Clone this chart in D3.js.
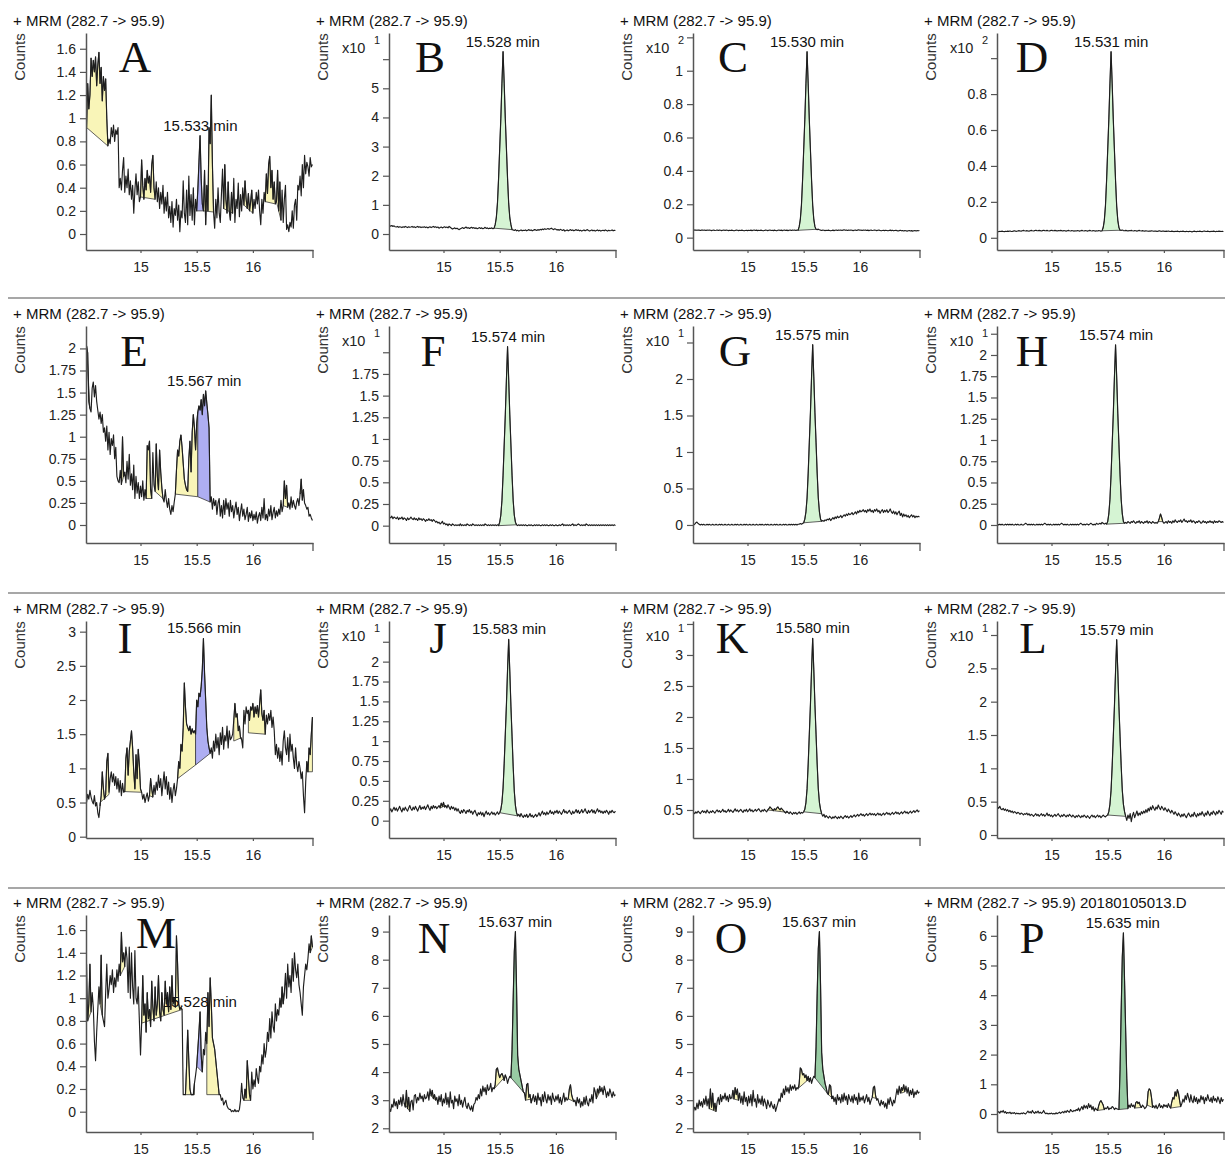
<!DOCTYPE html>
<html><head><meta charset="utf-8">
<script src="https://cdn.jsdelivr.net/npm/d3@7/dist/d3.min.js"></script>
<style>
body{margin:0;background:#fff;}
svg text{font-family:"Liberation Sans",Arial,sans-serif;}
</style></head><body>
<svg id="chart" width="1225" height="1162"></svg>
<script>
// ---------- DATA ----------
const T0 = 14.52, DT = 0.01; // retention-time sampling of every trace (min)
const letters = ["A","B","C","D","E","F","G","H","I","J","K","L","M","N","O","P"];
const titles = ["+ MRM (282.7 -> 95.9)","+ MRM (282.7 -> 95.9)","+ MRM (282.7 -> 95.9)","+ MRM (282.7 -> 95.9)",
  "+ MRM (282.7 -> 95.9)","+ MRM (282.7 -> 95.9)","+ MRM (282.7 -> 95.9)","+ MRM (282.7 -> 95.9)",
  "+ MRM (282.7 -> 95.9)","+ MRM (282.7 -> 95.9)","+ MRM (282.7 -> 95.9)","+ MRM (282.7 -> 95.9)",
  "+ MRM (282.7 -> 95.9)","+ MRM (282.7 -> 95.9)","+ MRM (282.7 -> 95.9)","+ MRM (282.7 -> 95.9) 20180105013.D"];
const retentionTimes = ["15.533","15.528","15.530","15.531","15.567","15.574","15.575","15.574",
  "15.566","15.583","15.580","15.579","15.528","15.637","15.637","15.635"];
const multipliers = [null,"1","2","2",null,"1","1","1",null,"1","1","1",null,null,null,null];
const xTickValues = [15, 15.5, 16];
const yTicksA = [0,0.2,0.4,0.6,0.8,1,1.2,1.4,1.6];
const yTicksB = [0,1,2,3,4,5];
const yTicksC = [0,0.2,0.4,0.6,0.8,1];
const yTicksD = [0,0.2,0.4,0.6,0.8];
const yTicksE = [0,0.25,0.5,0.75,1,1.25,1.5,1.75,2];
const yTicksF = [0,0.25,0.5,0.75,1,1.25,1.5,1.75];
const yTicksG = [0,0.5,1,1.5,2];
const yTicksH = [0,0.25,0.5,0.75,1,1.25,1.5,1.75,2];
const yTicksI = [0,0.5,1,1.5,2,2.5,3];
const yTicksJ = [0,0.25,0.5,0.75,1,1.25,1.5,1.75,2];
const yTicksK = [0.5,1,1.5,2,2.5,3];
const yTicksL = [0,0.5,1,1.5,2,2.5];
const yTicksM = [0,0.2,0.4,0.6,0.8,1,1.2,1.4,1.6];
const yTicksN = [2,3,4,5,6,7,8,9];
const yTicksO = [2,3,4,5,6,7,8,9];
const yTicksP = [0,1,2,3,4,5,6];
const yTopTicks = [null,6,1.2,1,null,2,2.5,2.25,null,2.25,3.5,3,null,null,null,null];
const yDomains = [[-0.138,1.736],[-0.549,6.898],[-0.074,1.226],[-0.068,1.14],
  [-0.204,2.254],[-0.2,2.303],[-0.247,2.726],[-0.212,2.341],
  [-0.019,3.156],[-0.218,2.511],[0.048,3.548],[-0.045,3.21],
  [-0.179,1.733],[1.868,9.59],[1.868,9.59],[-0.606,6.70]];

const traceA = [0.92,1.30,1.08,1.20,1.52,1.36,1.50,1.40,1.53,1.28,
1.46,1.57,1.30,1.44,1.15,1.36,1.24,1.34,1.00,0.76,
0.82,0.78,0.92,0.84,0.94,0.80,0.90,0.86,0.92,0.40,
0.48,0.38,0.55,0.66,0.36,0.50,0.40,0.56,0.34,0.46,
0.30,0.42,0.18,0.38,0.52,0.34,0.45,0.28,0.32,0.64,
0.42,0.30,0.48,0.38,0.55,0.44,0.50,0.36,0.60,0.68,
0.40,0.30,0.45,0.28,0.40,0.22,0.36,0.26,0.42,0.18,
0.32,0.20,0.36,0.14,0.24,0.10,0.28,0.06,0.22,0.16,
0.30,0.12,0.25,0.02,0.20,0.14,0.46,0.18,0.10,0.38,
0.08,0.50,0.16,0.34,0.12,0.40,0.08,0.30,0.20,0.38,
0.62,0.85,0.48,0.26,0.20,0.55,0.08,0.42,0.20,0.92,
0.78,1.20,0.60,0.19,0.05,0.30,0.14,0.40,0.18,0.10,
0.34,0.56,0.22,0.60,0.30,0.18,0.45,0.20,0.12,0.36,
0.18,0.48,0.10,0.30,0.22,0.44,0.15,0.34,0.20,0.40,
0.25,0.46,0.30,0.22,0.35,0.20,0.28,0.38,0.18,0.30,
0.22,0.36,0.26,0.38,0.20,0.08,0.30,0.18,0.36,0.28,
0.52,0.35,0.60,0.67,0.40,0.55,0.30,0.45,0.26,0.28,
0.55,0.20,0.45,0.12,0.38,0.10,0.30,0.42,0.04,0.08,
0.02,0.10,0.06,0.20,0.05,0.25,0.30,0.12,0.42,0.38,
0.50,0.33,0.60,0.40,0.68,0.52,0.62,0.58,0.50,0.66,
0.58,0.60];
const traceB = [0.28,0.27,0.29,0.26,0.28,0.25,0.24,0.26,0.23,0.25,
0.24,0.22,0.25,0.23,0.26,0.24,0.22,0.25,0.23,0.24,
0.26,0.23,0.25,0.22,0.24,0.26,0.23,0.25,0.22,0.24,
0.23,0.25,0.22,0.24,0.21,0.23,0.25,0.22,0.24,0.26,
0.23,0.25,0.22,0.24,0.20,0.22,0.24,0.21,0.23,0.25,
0.22,0.24,0.21,0.26,0.23,0.20,0.17,0.19,0.21,0.18,
0.20,0.17,0.15,0.18,0.20,0.22,0.19,0.21,0.24,0.20,
0.22,0.19,0.21,0.23,0.20,0.22,0.19,0.21,0.18,0.20,
0.22,0.19,0.21,0.18,0.20,0.23,0.19,0.21,0.18,0.20,
0.19,0.21,0.18,0.20,0.32,0.56,1.05,1.90,2.93,3.96,
5.17,6.26,5.17,3.96,2.93,1.90,1.05,0.56,0.32,0.15,
0.14,0.12,0.15,0.11,0.13,0.10,0.12,0.14,0.11,0.13,
0.12,0.14,0.11,0.13,0.15,0.12,0.14,0.11,0.13,0.15,
0.14,0.12,0.15,0.13,0.16,0.14,0.17,0.15,0.18,0.16,
0.17,0.19,0.16,0.18,0.20,0.17,0.15,0.18,0.16,0.14,
0.15,0.13,0.16,0.14,0.12,0.15,0.10,0.12,0.14,0.11,
0.13,0.15,0.12,0.14,0.11,0.13,0.15,0.12,0.14,0.11,
0.13,0.10,0.12,0.14,0.11,0.13,0.15,0.12,0.10,0.12,
0.14,0.11,0.13,0.10,0.12,0.14,0.11,0.13,0.10,0.12,
0.13,0.11,0.14,0.12,0.10,0.13,0.11,0.12,0.14,0.11,
0.13,0.12];
const traceC = [0.047,0.045,0.046,0.044,0.046,0.045,0.043,0.045,0.046,0.044,
0.045,0.043,0.045,0.044,0.046,0.044,0.042,0.044,0.045,0.043,
0.044,0.046,0.043,0.045,0.044,0.042,0.044,0.046,0.043,0.045,
0.044,0.042,0.044,0.043,0.045,0.043,0.041,0.043,0.045,0.044,
0.042,0.044,0.043,0.045,0.043,0.041,0.043,0.044,0.042,0.044,
0.043,0.045,0.042,0.044,0.046,0.043,0.045,0.042,0.044,0.043,
0.045,0.043,0.041,0.043,0.045,0.044,0.042,0.044,0.046,0.043,
0.044,0.042,0.045,0.043,0.041,0.044,0.046,0.043,0.045,0.042,
0.044,0.046,0.043,0.045,0.042,0.044,0.046,0.043,0.045,0.044,
0.046,0.043,0.045,0.044,0.066,0.109,0.195,0.345,0.527,0.708,
0.922,1.114,0.922,0.708,0.527,0.345,0.195,0.109,0.066,0.050,
0.048,0.051,0.047,0.045,0.043,0.045,0.044,0.042,0.044,0.043,
0.045,0.043,0.041,0.043,0.045,0.042,0.044,0.046,0.043,0.045,
0.044,0.046,0.043,0.045,0.047,0.044,0.046,0.043,0.045,0.044,
0.046,0.044,0.042,0.044,0.046,0.043,0.045,0.047,0.044,0.045,
0.043,0.045,0.044,0.046,0.043,0.045,0.042,0.044,0.045,0.043,
0.044,0.046,0.044,0.042,0.044,0.045,0.043,0.041,0.043,0.044,
0.042,0.044,0.043,0.041,0.043,0.045,0.042,0.044,0.041,0.043,
0.044,0.042,0.040,0.042,0.044,0.041,0.043,0.040,0.042,0.041,
0.039,0.041,0.043,0.040,0.042,0.039,0.041,0.043,0.040,0.042,
0.041,0.043];
const traceD = [0.036,0.034,0.036,0.035,0.037,0.035,0.034,0.036,0.035,0.037,
0.036,0.038,0.036,0.035,0.037,0.039,0.037,0.036,0.038,0.040,
0.038,0.037,0.039,0.041,0.039,0.038,0.040,0.038,0.037,0.039,
0.041,0.039,0.038,0.040,0.042,0.040,0.039,0.041,0.040,0.038,
0.040,0.042,0.040,0.039,0.041,0.039,0.038,0.040,0.042,0.040,
0.039,0.041,0.040,0.038,0.040,0.039,0.041,0.040,0.038,0.040,
0.039,0.037,0.039,0.041,0.039,0.038,0.040,0.039,0.037,0.039,
0.038,0.040,0.039,0.037,0.039,0.041,0.039,0.038,0.040,0.039,
0.037,0.039,0.041,0.039,0.038,0.040,0.039,0.037,0.039,0.038,
0.040,0.039,0.037,0.039,0.057,0.097,0.177,0.317,0.487,0.657,
0.857,1.036,0.857,0.657,0.487,0.317,0.177,0.097,0.057,0.042,
0.041,0.043,0.040,0.039,0.041,0.040,0.038,0.040,0.039,0.041,
0.039,0.038,0.040,0.039,0.037,0.039,0.041,0.039,0.038,0.040,
0.038,0.037,0.039,0.038,0.036,0.038,0.037,0.039,0.038,0.036,
0.038,0.037,0.035,0.037,0.039,0.037,0.036,0.038,0.037,0.035,
0.037,0.036,0.038,0.036,0.035,0.037,0.036,0.034,0.036,0.035,
0.037,0.035,0.034,0.036,0.035,0.037,0.035,0.034,0.036,0.035,
0.034,0.036,0.035,0.033,0.035,0.037,0.035,0.034,0.036,0.035,
0.037,0.035,0.034,0.036,0.038,0.036,0.035,0.037,0.035,0.034,
0.036,0.035,0.037,0.036,0.034,0.036,0.035,0.037,0.036,0.035,
0.036,0.035];
const traceE = [2.03,1.95,1.40,1.32,1.28,1.55,1.62,1.45,1.58,1.40,
1.30,1.20,1.28,1.15,1.25,1.05,1.10,0.95,1.12,0.85,
1.05,0.80,0.98,0.90,1.02,0.75,0.88,0.55,0.50,0.48,
0.62,0.46,1.00,0.55,0.60,0.48,0.72,0.52,0.80,0.45,
0.58,0.40,0.68,0.30,0.55,0.36,0.48,0.30,0.44,0.32,
0.50,0.28,0.40,0.30,0.90,0.85,0.95,0.40,0.30,0.82,
0.45,0.38,0.92,0.55,0.40,0.85,0.60,0.42,0.30,0.26,
0.40,0.28,0.20,0.30,0.18,0.12,0.22,0.15,0.26,0.35,
0.62,0.85,0.78,0.95,1.02,0.88,0.70,0.52,0.45,0.40,
0.38,0.75,0.95,0.60,1.05,1.25,1.10,0.85,1.15,1.28,
1.35,1.30,1.42,1.25,1.48,1.35,1.52,1.38,1.25,1.10,
0.26,0.32,0.18,0.30,0.22,0.28,0.12,0.25,0.30,0.10,
0.22,0.08,0.28,0.12,0.30,0.18,0.25,0.10,0.28,0.15,
0.22,0.08,0.18,0.26,0.12,0.20,0.05,0.15,0.24,0.10,
0.18,0.06,0.12,0.20,0.04,0.14,0.08,0.16,0.05,0.12,
0.06,0.15,0.02,0.10,0.14,0.05,0.20,0.08,0.30,0.06,
0.12,0.05,0.18,0.10,0.22,0.06,0.14,0.20,0.08,0.16,
0.10,0.18,0.12,0.28,0.15,0.22,0.50,0.30,0.45,0.20,
0.25,0.18,0.32,0.20,0.28,0.22,0.18,0.26,0.30,0.22,
0.35,0.52,0.28,0.40,0.25,0.22,0.18,0.20,0.10,0.12,
0.08,0.05];
const traceF = [0.10,0.09,0.11,0.08,0.10,0.09,0.08,0.10,0.07,0.09,
0.08,0.10,0.07,0.09,0.08,0.06,0.09,0.07,0.08,0.10,
0.08,0.07,0.09,0.07,0.08,0.06,0.09,0.07,0.08,0.06,
0.08,0.07,0.05,0.07,0.06,0.08,0.06,0.07,0.05,0.07,
0.06,0.04,0.05,0.03,0.04,0.02,0.03,0.05,0.02,0.03,
0.01,0.02,0.00,0.02,0.01,0.00,0.02,0.01,0.00,0.01,
0.00,0.01,0.00,0.02,0.00,0.01,0.00,0.01,0.00,0.02,
0.01,0.00,0.01,0.00,0.02,0.01,0.00,0.01,0.00,0.01,
0.00,0.01,0.00,0.01,0.00,0.02,0.01,0.00,0.01,0.00,
0.01,0.00,0.01,0.00,0.01,0.00,0.01,0.00,0.04,0.12,
0.29,0.58,0.93,1.28,1.69,2.065,1.69,1.28,0.93,0.58,
0.29,0.12,0.04,0.01,0.00,0.01,0.00,0.01,0.00,0.01,
0.00,0.01,0.00,0.00,0.01,0.00,0.01,0.00,0.00,0.01,
0.00,0.01,0.00,0.01,0.00,0.00,0.01,0.00,0.01,0.00,
0.01,0.00,0.00,0.01,0.00,0.01,0.00,0.00,0.01,0.00,
0.00,0.01,0.00,0.01,0.02,0.00,0.01,0.00,0.01,0.00,
0.01,0.00,0.01,0.02,0.00,0.01,0.00,0.01,0.02,0.01,
0.00,0.01,0.00,0.01,0.00,0.02,0.01,0.00,0.01,0.00,
0.01,0.00,0.01,0.00,0.01,0.00,0.01,0.00,0.01,0.00,
0.01,0.00,0.01,0.00,0.01,0.00,0.01,0.00,0.01,0.00,
0.01,0.00];
const traceG = [0.00,0.01,0.03,0.04,0.02,0.01,0.00,0.01,0.00,0.01,
0.00,0.00,0.01,0.00,0.01,0.00,0.00,0.01,0.00,0.00,
0.01,0.00,0.00,0.01,0.00,0.01,0.00,0.00,0.01,0.00,
0.00,0.01,0.00,0.00,0.01,0.00,0.00,0.01,0.00,0.01,
0.00,0.00,0.01,0.00,0.00,0.01,0.00,0.01,0.00,0.00,
0.01,0.00,0.00,0.01,0.00,0.00,0.01,0.00,0.00,0.01,
0.00,0.01,0.00,0.00,0.01,0.00,0.01,0.00,0.00,0.01,
0.00,0.00,0.01,0.00,0.01,0.00,0.00,0.01,0.00,0.00,
0.01,0.00,0.01,0.00,0.00,0.01,0.00,0.01,0.00,0.01,
0.00,0.01,0.00,0.01,0.01,0.02,0.01,0.02,0.03,0.08,
0.18,0.37,0.71,1.13,1.54,2.03,2.47,2.03,1.54,1.13,
0.71,0.37,0.18,0.08,0.05,0.06,0.05,0.07,0.06,0.08,
0.07,0.09,0.06,0.08,0.10,0.08,0.11,0.09,0.12,0.10,
0.11,0.13,0.10,0.12,0.14,0.12,0.15,0.13,0.16,0.14,
0.15,0.17,0.14,0.16,0.18,0.15,0.19,0.17,0.20,0.18,
0.19,0.21,0.18,0.20,0.17,0.21,0.19,0.22,0.18,0.20,
0.17,0.21,0.19,0.22,0.18,0.20,0.16,0.19,0.21,0.17,
0.20,0.18,0.21,0.17,0.19,0.22,0.18,0.16,0.19,0.15,
0.18,0.14,0.17,0.19,0.13,0.16,0.11,0.15,0.12,0.14,
0.11,0.13,0.10,0.12,0.14,0.11,0.13,0.10,0.12,0.11,
0.12,0.11];
const traceH = [0.01,0.00,0.01,0.00,0.01,0.00,0.00,0.01,0.00,0.01,
0.00,0.01,0.00,0.01,0.00,0.00,0.01,0.00,0.01,0.00,
0.00,0.01,0.00,0.00,0.01,0.02,0.01,0.00,0.01,0.00,
0.01,0.00,0.01,0.00,0.00,0.01,0.00,0.01,0.00,0.01,
0.00,0.01,0.02,0.01,0.00,0.01,0.00,0.01,0.00,0.00,
0.01,0.00,0.01,0.00,0.01,0.00,0.01,0.02,0.01,0.00,
0.01,0.00,0.01,0.00,0.00,0.01,0.00,0.01,0.00,0.01,
0.00,0.01,0.00,0.01,0.02,0.01,0.00,0.01,0.00,0.01,
0.01,0.00,0.01,0.02,0.01,0.00,0.01,0.00,0.02,0.01,
0.01,0.02,0.01,0.03,0.02,0.01,0.02,0.01,0.04,0.13,
0.30,0.59,0.95,1.31,1.74,2.12,1.74,1.31,0.95,0.59,
0.30,0.13,0.04,0.02,0.03,0.02,0.04,0.03,0.02,0.04,
0.03,0.05,0.03,0.02,0.04,0.03,0.05,0.02,0.04,0.03,
0.02,0.04,0.03,0.05,0.02,0.04,0.03,0.02,0.04,0.03,
0.02,0.03,0.02,0.04,0.08,0.13,0.09,0.04,0.02,0.03,
0.04,0.02,0.05,0.03,0.04,0.02,0.05,0.03,0.06,0.04,
0.03,0.05,0.04,0.06,0.03,0.05,0.07,0.04,0.05,0.03,
0.05,0.04,0.06,0.03,0.05,0.04,0.02,0.04,0.03,0.05,
0.04,0.02,0.03,0.05,0.03,0.04,0.02,0.04,0.03,0.05,
0.03,0.04,0.02,0.05,0.03,0.04,0.03,0.05,0.04,0.03,
0.04,0.03];
const traceI = [0.50,0.62,0.55,0.68,0.58,0.52,0.48,0.60,0.45,0.50,
0.35,0.28,0.45,0.60,0.95,0.70,0.55,0.62,1.10,1.22,
0.65,0.85,0.95,0.80,0.92,0.75,0.88,0.70,0.85,0.65,
0.82,0.60,0.78,0.65,0.66,1.15,1.30,0.90,1.25,1.40,
1.55,1.30,0.95,0.70,1.20,0.85,1.28,1.05,0.70,0.65,
0.55,0.62,0.50,0.58,0.64,0.52,0.60,0.85,0.70,0.58,
0.75,0.62,0.80,0.68,0.90,0.72,0.85,0.60,0.78,0.95,
0.70,0.88,0.62,0.80,0.55,0.72,0.50,0.68,0.78,0.60,
0.70,0.85,1.10,1.00,1.35,1.25,1.60,2.25,1.90,1.65,
1.60,1.55,1.62,1.50,1.58,1.52,1.55,1.50,2.00,1.90,
2.10,2.05,2.20,2.45,2.90,2.40,2.00,1.60,1.40,1.30,
1.22,1.30,1.15,1.40,1.25,1.50,1.30,1.45,1.20,1.52,
1.35,1.60,1.28,1.48,1.40,1.62,1.30,1.55,1.42,1.45,
1.50,1.70,1.95,1.75,1.80,1.55,1.62,1.45,1.42,1.30,
1.85,1.65,1.90,1.80,1.85,1.70,1.90,1.85,1.95,1.75,
1.90,1.80,1.92,1.75,1.95,2.15,1.80,1.70,1.85,1.50,
1.78,1.65,1.80,1.70,1.85,1.60,1.75,1.55,1.20,1.35,
1.15,1.30,1.10,1.25,1.05,1.40,1.55,1.30,1.20,1.45,
1.10,1.50,1.25,1.35,1.15,1.00,1.30,1.05,0.95,1.10,
1.00,0.85,0.95,0.60,0.35,0.80,1.10,0.95,1.30,1.20,
1.50,1.75];
const traceJ = [0.12,0.15,0.11,0.14,0.17,0.13,0.16,0.12,0.15,0.18,
0.14,0.11,0.16,0.13,0.17,0.14,0.12,0.16,0.19,0.15,
0.13,0.17,0.14,0.18,0.15,0.12,0.16,0.19,0.14,0.17,
0.15,0.18,0.14,0.17,0.20,0.16,0.13,0.18,0.15,0.19,
0.16,0.18,0.15,0.17,0.19,0.16,0.22,0.18,0.23,0.17,
0.19,0.16,0.20,0.17,0.14,0.18,0.15,0.17,0.13,0.16,
0.12,0.15,0.11,0.09,0.13,0.10,0.14,0.12,0.09,0.13,
0.11,0.14,0.10,0.12,0.08,0.11,0.13,0.09,0.06,0.10,
0.08,0.11,0.07,0.10,0.05,0.09,0.12,0.08,0.10,0.07,
0.09,0.11,0.08,0.10,0.07,0.09,0.11,0.08,0.10,0.14,
0.23,0.41,0.72,1.09,1.46,1.90,2.28,1.88,1.44,1.06,
0.68,0.37,0.19,0.10,0.06,0.08,0.05,0.09,0.06,0.04,
0.07,0.05,0.08,0.04,0.06,0.09,0.05,0.07,0.04,0.06,
0.08,0.05,0.07,0.10,0.06,0.09,0.12,0.08,0.10,0.07,
0.11,0.08,0.10,0.13,0.09,0.11,0.08,0.12,0.10,0.13,
0.09,0.12,0.10,0.08,0.11,0.14,0.10,0.12,0.09,0.11,
0.13,0.10,0.08,0.12,0.09,0.11,0.14,0.10,0.13,0.09,
0.11,0.14,0.10,0.12,0.15,0.11,0.09,0.13,0.10,0.12,
0.14,0.10,0.13,0.09,0.12,0.15,0.11,0.13,0.10,0.12,
0.09,0.12,0.10,0.13,0.11,0.08,0.12,0.10,0.13,0.11,
0.10,0.12];
const traceK = [0.46,0.44,0.47,0.45,0.48,0.46,0.44,0.47,0.49,0.46,
0.48,0.45,0.50,0.47,0.45,0.48,0.46,0.49,0.47,0.45,
0.48,0.50,0.47,0.49,0.46,0.48,0.51,0.47,0.49,0.46,
0.48,0.51,0.47,0.50,0.48,0.46,0.49,0.52,0.48,0.50,
0.47,0.49,0.51,0.48,0.46,0.50,0.48,0.51,0.47,0.49,
0.52,0.48,0.50,0.47,0.49,0.51,0.48,0.50,0.52,0.49,
0.47,0.50,0.48,0.51,0.49,0.47,0.50,0.52,0.55,0.53,
0.51,0.49,0.52,0.50,0.53,0.55,0.52,0.50,0.53,0.51,
0.49,0.47,0.45,0.48,0.46,0.44,0.47,0.45,0.43,0.46,
0.44,0.46,0.43,0.45,0.47,0.44,0.46,0.45,0.47,0.51,
0.62,0.84,1.24,1.72,2.20,2.76,3.27,2.76,2.20,1.72,
1.24,0.84,0.62,0.51,0.44,0.40,0.43,0.38,0.41,0.39,
0.37,0.40,0.38,0.36,0.39,0.37,0.40,0.38,0.36,0.39,
0.37,0.40,0.38,0.36,0.39,0.41,0.38,0.40,0.37,0.39,
0.41,0.38,0.40,0.42,0.39,0.41,0.43,0.40,0.42,0.44,
0.41,0.43,0.40,0.42,0.44,0.41,0.43,0.45,0.42,0.44,
0.42,0.44,0.41,0.43,0.45,0.42,0.44,0.41,0.43,0.45,
0.42,0.44,0.46,0.43,0.45,0.42,0.44,0.46,0.43,0.45,
0.47,0.44,0.46,0.43,0.45,0.47,0.44,0.46,0.48,0.45,
0.47,0.44,0.46,0.48,0.45,0.47,0.49,0.46,0.48,0.50,
0.47,0.49];
const traceL = [0.42,0.40,0.43,0.39,0.38,0.40,0.37,0.39,0.36,0.38,
0.35,0.37,0.34,0.36,0.33,0.35,0.34,0.32,0.34,0.33,
0.31,0.33,0.32,0.30,0.32,0.31,0.33,0.30,0.32,0.29,
0.31,0.30,0.28,0.30,0.32,0.29,0.31,0.28,0.30,0.32,
0.29,0.31,0.28,0.30,0.33,0.29,0.31,0.28,0.30,0.27,
0.29,0.31,0.28,0.30,0.32,0.29,0.27,0.30,0.28,0.31,
0.29,0.27,0.30,0.28,0.31,0.29,0.27,0.30,0.28,0.26,
0.29,0.27,0.30,0.28,0.26,0.29,0.27,0.30,0.28,0.26,
0.29,0.27,0.25,0.28,0.30,0.27,0.29,0.26,0.28,0.30,
0.27,0.29,0.26,0.28,0.30,0.28,0.27,0.29,0.30,0.35,
0.46,0.67,1.04,1.48,1.93,2.46,2.93,2.46,1.93,1.48,
1.04,0.67,0.46,0.35,0.28,0.22,0.30,0.25,0.32,0.20,
0.29,0.34,0.26,0.31,0.36,0.29,0.33,0.30,0.35,0.32,
0.36,0.33,0.38,0.34,0.40,0.36,0.42,0.38,0.44,0.40,
0.37,0.42,0.39,0.45,0.41,0.38,0.43,0.40,0.37,0.41,
0.38,0.35,0.39,0.36,0.33,0.37,0.34,0.31,0.35,0.32,
0.29,0.33,0.30,0.27,0.31,0.28,0.32,0.29,0.26,0.30,
0.33,0.29,0.27,0.31,0.28,0.34,0.30,0.27,0.32,0.29,
0.33,0.30,0.35,0.31,0.28,0.33,0.30,0.36,0.32,0.29,
0.34,0.31,0.36,0.33,0.30,0.35,0.32,0.37,0.34,0.31,
0.36,0.34];
const traceM = [1.30,0.80,0.95,1.30,0.88,1.05,0.92,0.62,0.45,0.70,
0.90,1.10,0.95,1.38,0.85,0.80,0.75,1.05,1.30,1.00,
1.08,1.20,1.12,1.25,1.05,1.18,1.10,1.25,1.15,1.30,
1.20,1.58,1.32,1.40,1.28,1.45,1.35,1.05,1.45,1.00,
1.40,1.10,0.95,1.42,1.00,0.95,1.10,0.80,0.50,0.78,
1.20,0.85,0.95,0.70,1.05,0.82,0.90,0.75,1.15,0.92,
0.80,1.10,0.85,0.95,1.20,0.88,0.80,1.05,0.90,0.85,
1.15,0.95,1.05,0.88,1.10,0.90,1.20,0.95,1.00,0.92,
1.55,1.30,0.95,0.90,0.92,0.90,0.15,0.15,0.15,0.40,
0.72,0.45,0.20,0.15,0.15,0.15,0.25,0.32,0.40,0.55,
0.70,0.88,0.50,0.35,0.55,0.50,0.70,0.60,1.05,0.75,
1.18,0.95,0.65,0.60,0.55,0.45,0.35,0.25,0.15,0.15,
0.10,0.12,0.06,0.08,0.10,0.05,0.03,0.02,0.02,0.00,
0.01,0.00,0.02,0.00,0.01,0.00,0.02,0.10,0.25,0.12,
0.10,0.20,0.12,0.45,0.30,0.15,0.10,0.35,0.20,0.28,
0.22,0.38,0.30,0.25,0.40,0.35,0.50,0.42,0.60,0.48,
0.55,0.70,0.62,0.82,0.65,0.88,0.75,0.70,0.95,0.80,
0.90,0.85,1.00,0.92,1.10,0.95,1.05,1.22,1.00,1.30,
1.10,1.20,1.05,1.35,1.15,1.40,1.25,1.18,1.30,1.12,
1.05,0.95,0.85,1.10,1.20,1.30,1.25,1.35,1.48,1.40,
1.55,1.45];
const traceN = [2.70,2.60,2.85,2.75,3.05,2.80,2.95,2.70,3.00,2.85,
3.10,2.80,3.20,2.90,2.75,3.35,2.70,3.10,2.60,2.95,
3.00,2.65,3.15,3.20,2.90,3.10,3.00,3.25,3.05,3.15,
2.95,3.20,3.05,3.10,3.30,3.00,3.40,3.15,3.35,3.05,
3.20,3.00,3.10,2.85,3.15,2.95,3.20,2.80,3.05,2.90,
3.25,2.85,3.10,2.75,3.30,2.90,3.00,2.70,3.15,2.95,
3.05,2.80,3.20,2.85,3.00,2.75,2.95,3.10,2.80,2.70,
2.90,2.75,2.65,2.80,2.60,2.85,2.90,3.10,3.00,3.20,
3.05,3.40,3.15,3.50,3.30,3.45,3.20,3.55,3.35,3.40,
3.60,3.30,3.45,3.40,3.55,4.10,4.15,3.95,3.80,3.90,
3.95,3.85,3.70,3.90,3.80,3.60,3.75,3.85,3.80,4.80,
6.60,8.30,9.00,7.00,4.60,4.10,3.90,3.70,3.50,3.30,
3.25,3.00,3.55,3.60,3.10,3.20,2.90,3.05,3.20,2.95,
3.15,2.85,3.25,3.00,3.10,2.80,3.20,2.95,3.30,3.05,
2.90,3.20,3.00,3.15,2.85,3.25,3.05,2.95,3.15,3.00,
3.20,2.90,3.10,2.85,3.05,3.25,2.95,3.10,3.00,3.05,
3.40,3.55,3.20,3.05,2.95,3.00,2.80,3.10,2.90,3.05,
2.75,2.95,2.80,3.10,2.85,3.15,2.90,2.80,3.05,2.95,
3.20,2.90,3.45,3.30,3.05,3.40,3.25,3.50,3.30,3.45,
3.20,3.50,3.35,3.10,3.30,3.15,3.40,3.25,3.10,3.30,
3.15,3.20];
const traceO = [2.60,2.75,2.65,2.90,2.70,3.00,2.80,2.95,2.75,3.05,
2.85,3.15,2.80,3.05,2.70,3.40,2.75,3.25,2.65,2.90,
2.60,2.95,3.10,2.85,3.20,2.95,3.15,3.05,3.25,3.00,
3.15,2.95,3.20,3.05,3.10,3.35,3.05,3.45,3.20,3.40,
3.00,3.25,2.90,3.15,2.85,3.30,2.95,3.10,2.80,3.15,
2.90,3.20,2.80,3.35,2.95,3.05,2.75,3.20,2.90,3.05,
2.85,3.15,2.80,3.05,2.90,2.70,3.00,2.85,2.75,2.95,
2.80,2.70,2.85,2.60,2.75,2.90,3.05,2.95,3.25,3.10,
3.40,3.20,3.50,3.30,3.45,3.25,3.55,3.35,3.50,3.40,
3.55,3.35,3.45,3.40,3.60,4.15,4.10,3.90,3.95,3.80,
3.90,3.70,3.85,3.65,3.80,3.60,3.75,3.85,3.80,4.90,
6.80,8.40,9.00,7.10,4.70,4.10,3.85,3.60,3.45,3.25,
3.20,3.55,3.50,3.05,3.15,2.95,3.10,2.85,3.20,3.00,
3.10,2.90,3.20,2.95,3.25,3.00,3.15,2.85,3.20,3.05,
2.95,3.15,2.90,3.20,3.00,3.10,2.85,3.25,2.95,3.10,
3.00,3.15,2.90,3.05,3.20,2.95,3.10,2.85,3.00,3.10,
3.45,3.50,3.15,3.00,3.05,2.90,2.80,3.00,2.85,2.95,
2.75,2.90,2.70,3.05,2.85,3.10,2.95,2.80,3.00,2.90,
3.15,3.40,3.20,3.50,3.25,3.45,3.35,3.55,3.30,3.50,
3.25,3.45,3.15,3.35,3.20,3.40,3.10,3.30,3.20,3.35,
3.25,3.30];
const traceP = [0.05,0.08,0.03,0.10,0.06,0.12,0.04,0.08,0.02,0.05,
0.03,0.06,0.01,0.04,0.02,0.05,0.00,0.03,0.01,0.02,
0.00,0.03,0.01,0.04,0.02,0.00,0.05,0.10,0.04,0.08,
0.03,0.12,0.05,0.02,0.08,0.04,0.10,0.03,0.06,0.02,
0.05,0.12,0.04,0.01,0.03,0.00,0.02,0.01,0.03,0.00,
0.02,0.00,0.04,0.01,0.03,0.06,0.02,0.05,0.08,0.04,
0.10,0.05,0.12,0.08,0.06,0.15,0.10,0.08,0.12,0.10,
0.15,0.12,0.20,0.10,0.18,0.25,0.15,0.30,0.20,0.28,
0.18,0.35,0.22,0.30,0.15,0.25,0.10,0.20,0.15,0.12,
0.28,0.40,0.45,0.38,0.30,0.15,0.20,0.18,0.25,0.15,
0.20,0.18,0.25,0.22,0.15,0.20,0.18,0.16,0.15,1.50,
3.50,5.30,6.10,4.50,2.80,1.20,0.18,0.30,0.22,0.35,
0.25,0.30,0.20,0.38,0.42,0.35,0.40,0.28,0.22,0.30,
0.25,0.18,0.22,0.30,0.75,0.85,0.80,0.55,0.22,0.28,
0.20,0.30,0.18,0.25,0.35,0.22,0.28,0.20,0.32,0.25,
0.30,0.22,0.35,0.25,0.20,0.40,0.55,0.50,0.75,0.60,
0.82,0.70,0.45,0.25,0.35,0.50,0.40,0.62,0.48,0.70,
0.55,0.40,0.65,0.45,0.38,0.60,0.42,0.55,0.35,0.50,
0.40,0.62,0.48,0.58,0.35,0.55,0.45,0.65,0.50,0.42,
0.55,0.38,0.60,0.45,0.52,0.40,0.58,0.48,0.35,0.55,
0.42,0.50];

// integrated areas: [start min, end min, baseline at start, baseline at end, kind]
const regionsA = [[14.52,14.71,0.92,0.76,"y"],[15.00,15.13,0.32,0.30,"y"],[15.50,15.56,0.20,0.20,"b"],
  [15.56,15.65,0.20,0.19,"y"],[15.74,15.82,0.22,0.18,"y"],[15.92,16.00,0.25,0.18,"y"],
  [16.11,16.20,0.28,0.26,"y"],[16.21,16.25,0.28,0.12,"y"]];
const regionsB = [[15.45,15.61,0.20,0.15,"g"]];
const regionsC = [[15.45,15.61,0.044,0.050,"g"]];
const regionsD = [[15.45,15.61,0.039,0.042,"g"]];
const regionsE = [[14.52,14.55,2.03,1.32,"y"],[14.83,14.86,0.46,0.60,"y"],[15.05,15.10,0.30,0.30,"y"],
  [15.13,15.20,0.38,0.30,"y"],[15.31,15.51,0.35,0.32,"y"],[15.51,15.62,0.32,0.26,"b"],
  [16.27,16.31,0.22,0.20,"y"],[16.42,16.45,0.35,0.40,"y"]];
const regionsF = [[15.49,15.65,0.00,0.01,"g"]];
const regionsG = [[15.50,15.66,0.03,0.05,"g"]];
const regionsH = [[15.49,15.65,0.01,0.02,"g"],[15.95,15.99,0.04,0.04,"y"]];
const regionsI = [[14.64,14.72,0.50,0.62,"y"],[14.86,15.01,0.66,0.65,"y"],[15.08,15.11,0.60,0.58,"y"],
  [15.33,15.49,0.85,1.05,"y"],[15.49,15.62,1.05,1.22,"b"],[15.83,15.90,1.40,1.45,"y"],
  [15.96,16.11,1.52,1.50,"y"],[16.48,16.53,0.95,0.95,"y"]];
const regionsJ = [[15.50,15.66,0.10,0.06,"g"],[14.97,15.02,0.16,0.19,"y"]];
const regionsK = [[15.50,15.66,0.47,0.44,"g"],[15.18,15.36,0.50,0.46,"y"]];
const regionsL = [[15.50,15.66,0.30,0.28,"g"]];
const regionsM = [[14.53,14.56,0.80,0.88,"y"],[14.64,14.66,0.95,0.85,"y"],[14.82,14.86,1.20,1.28,"y"],
  [15.01,15.37,0.78,0.90,"y"],[15.40,15.48,0.15,0.15,"y"],[15.50,15.55,0.40,0.35,"b"],
  [15.59,15.70,0.15,0.15,"y"],[15.92,15.98,0.10,0.10,"y"],[16.25,16.28,0.92,1.05,"y"],
  [16.51,16.53,1.40,1.45,"y"]];
const regionsN = [[14.65,14.70,2.90,2.60,"y"],[14.89,14.93,3.15,3.00,"y"],[15.45,15.55,3.40,3.85,"y"],
  [15.60,15.72,3.80,3.25,"G"],[15.73,15.79,3.00,3.05,"y"],[16.11,16.16,3.05,2.95,"y"],
  [16.36,16.39,3.05,3.30,"y"]];
const regionsO = [[14.66,14.72,2.70,2.60,"y"],[14.87,14.92,3.05,3.00,"y"],[15.46,15.56,3.45,3.80,"y"],
  [15.60,15.72,3.80,3.20,"G"],[15.72,15.76,3.20,3.05,"y"],[16.11,16.16,3.10,3.05,"y"],
  [16.37,16.40,3.25,3.30,"y"]];
const regionsP = [[15.41,15.47,0.12,0.15,"y"],[15.60,15.68,0.15,0.18,"G"],[15.74,15.80,0.20,0.22,"y"],
  [15.85,15.90,0.30,0.22,"y"],[16.06,16.15,0.20,0.25,"y"]];

const traces = [traceA,traceB,traceC,traceD,traceE,traceF,traceG,traceH,traceI,traceJ,traceK,traceL,traceM,traceN,traceO,traceP];
const regions = [regionsA,regionsB,regionsC,regionsD,regionsE,regionsF,regionsG,regionsH,regionsI,regionsJ,regionsK,regionsL,regionsM,regionsN,regionsO,regionsP];
const yTicks = [yTicksA,yTicksB,yTicksC,yTicksD,yTicksE,yTicksF,yTicksG,yTicksH,yTicksI,yTicksJ,yTicksK,yTicksL,yTicksM,yTicksN,yTicksO,yTicksP];

// ---------- LAYOUT ----------
const colX = [86, 389, 693, 997];
const rowBottom = [250, 543, 838, 1132];
const plotW = 227, plotH = 217;
const xDomain = [14.515, 16.535];
const letterDX = [49,41,40,35, 48,44,42,35, 39,49,39,36, 70,45,38,35];
const letterBase = [72,72,72,72, 366,366,366,366, 653,653,653,653, 948,953,953,953];
const fillColor = {y:"#f9f5b8", b:"#aeaef2", g:"#d5f4d3", G:"#98cba3"};
const fmt = v => String(+v.toFixed(2));
const FONT = '"Liberation Sans", Arial, sans-serif';

const svg = d3.select("#chart");
svg.append("rect").attr("width",1225).attr("height",1162).attr("fill","#fff");

[298, 593, 888].forEach(yy => svg.append("line")
  .attr("x1",8).attr("x2",1225).attr("y1",yy).attr("y2",yy)
  .attr("stroke","#8a8a8a").attr("stroke-width",1.5));

function styleAxis(a){
  a.attr("font-family", FONT).attr("font-size", 14);
  a.select(".domain").attr("stroke","#555").attr("stroke-width",1.5);
  a.selectAll(".tick line").attr("stroke","#555").attr("stroke-width",1.2);
  a.selectAll(".tick text").attr("fill","#222");
}

letters.forEach((letter, i) => {
  const col = i % 4, row = Math.floor(i / 4);
  const x0 = colX[col], yb = rowBottom[row], yt = yb - plotH;
  const x = d3.scaleLinear().domain(xDomain).range([x0, x0 + plotW]);
  const y = d3.scaleLinear().domain(yDomains[i]).range([yb, yt]);
  const g = svg.append("g");
  const pts = traces[i].map((v, k) => [T0 + k * DT, v]);
  const line = d3.line().x(d => x(d[0])).y(d => y(d[1]));

  let apex = null;
  regions[i].forEach(([t0, t1, b0, b1, kind]) => {
    const seg = pts.filter(d => d[0] >= t0 - 1e-6 && d[0] <= t1 + 1e-6);
    g.append("path").attr("d", line(seg.concat([[t1, b1], [t0, b0]])) + "Z")
      .attr("fill", fillColor[kind]).attr("stroke", "#3a3a3a")
      .attr("stroke-width", 0.8).attr("stroke-linejoin", "round");
    if (kind !== "y") apex = d3.max(seg, d => d[1]);
  });
  g.append("path").attr("d", line(pts)).attr("fill", "none")
    .attr("stroke", "#1e1e1e").attr("stroke-width", 1.15).attr("stroke-linejoin", "round");

  // y axis
  const labeled = yTicks[i];
  const allTicks = yTopTicks[i] != null ? labeled.concat([yTopTicks[i]]) : labeled;
  const ya = g.append("g").attr("transform", `translate(${x0},0)`)
    .call(d3.axisLeft(y).tickValues(allTicks).tickSize(6).tickPadding(4).tickSizeOuter(0)
      .tickFormat(v => labeled.includes(v) ? fmt(v) : ""));
  styleAxis(ya);
  // x axis
  const xa = g.append("g").attr("transform", `translate(0,${yb})`)
    .call(d3.axisBottom(x).tickValues(xTickValues).tickSize(3).tickPadding(9).tickSizeOuter(0)
      .tickFormat(fmt));
  styleAxis(xa);
  g.append("line").attr("x1", x0 + plotW).attr("x2", x0 + plotW)
    .attr("y1", yb).attr("y2", yb + 8).attr("stroke", "#555").attr("stroke-width", 1.3);

  // title
  g.append("text").attr("x", x0 - 73).attr("y", yt - 7)
    .attr("font-size", 15).attr("fill", "#111").text(titles[i]);
  // Counts
  g.append("text").attr("transform", `translate(${x0 - 67},${yt + 24}) rotate(-90)`)
    .attr("text-anchor", "middle").attr("dominant-baseline", "central")
    .attr("font-size", 15).attr("fill", "#333").text("Counts");
  // multiplier
  if (multipliers[i]) {
    g.append("text").attr("x", x0 - 47).attr("y", yt + 20)
      .attr("font-size", 14.5).attr("fill", "#222").text("x10");
    g.append("text").attr("x", x0 - 15).attr("y", yt + 11)
      .attr("font-size", 11).attr("fill", "#222").text(multipliers[i]);
  }
  // panel letter
  g.append("text").attr("x", x0 + letterDX[i]).attr("y", letterBase[i])
    .attr("text-anchor", "middle").attr("font-size", 45)
    .style("font-family", '"Liberation Serif","Times New Roman",serif')
    .attr("fill", "#111").text(letter);
  // peak label
  const rt = +retentionTimes[i];
  g.append("text").attr("x", x(rt)).attr("y", y(apex) - 5)
    .attr("text-anchor", "middle").attr("font-size", 15).attr("fill", "#111")
    .text(retentionTimes[i] + " min");
});
</script>
</body></html>
